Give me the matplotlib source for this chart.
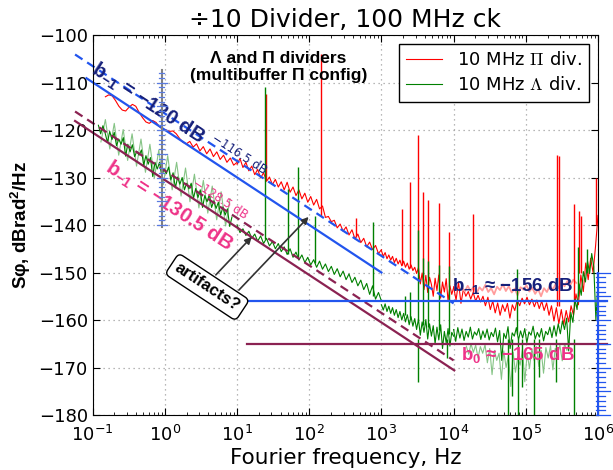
import numpy as np
import matplotlib
matplotlib.use("Agg")
import matplotlib.pyplot as plt
from matplotlib.font_manager import FontProperties

plt.rcParams['font.family'] = 'DejaVu Sans'
plt.rcParams['mathtext.fontset'] = 'custom'
plt.rcParams['mathtext.rm'] = 'Liberation Sans:bold'
plt.rcParams['mathtext.it'] = 'Liberation Sans:bold:italic'
plt.rcParams['mathtext.bf'] = 'Liberation Sans:bold'

# --- measured traces (dBrad^2/Hz), read off the plot ---
# red: 10 MHz Pi divider
red_lo_db = [-113.0, -112.6, -112.8, -113.8, -115.0, -115.8, -116.0, -115.2, -114.6, -115.0,
             -116.3, -117.4, -118.3, -118.6, -118.0, -118.4, -119.3, -119.8, -120.0, -120.3,
             -120.2, -120.8, -121.8, -122.6, -122.9, -122.4, -123.6, -122.9, -124.4, -123.5,
             -125.0, -124.0, -125.6, -124.6, -126.2, -125.3, -126.8, -125.9, -127.4, -126.8]
red_mid_db = [-127.2, -126.0, -127.9, -126.8, -128.6, -127.6, -129.4, -128.3, -130.1, -129.0,
              -130.8, -129.9, -131.5, -130.4, -132.0, -130.9, -132.6, -131.0, -133.1, -132.0,
              -133.8, -132.6, -134.5, -133.3, -135.2, -134.0, -135.8, -134.6, -136.6, -136.0,
              -138.4, -138.2, -139.3, -139.0, -140.6, -139.8, -141.3, -140.4, -142.1, -141.0,
              -142.9, -141.9, -143.7, -142.8, -144.6, -143.6, -145.2, -144.3, -146.0, -145.2]
red_khz_db = [-145.4, -146.6, -145.8, -147.1, -146.3, -147.4, -146.6, -147.9, -147.0, -148.2,
              -147.4, -148.6, -147.6, -148.9, -148.0, -149.3, -148.4, -149.6, -148.9, -150.2,
              -149.0, -152.4, -150.1, -153.6, -150.6, -154.2, -151.0, -152.5, -155.0, -151.2,
              -153.8, -150.5, -155.4, -152.0, -154.1, -151.3, -156.0, -152.8, -154.6, -153.2]
red_hi_db = [-153.0, -155.8, -152.0, -156.5, -153.5, -155.0, -154.0, -155.6, -154.2, -156.0,
             -154.8, -156.2, -155.0, -157.0, -155.2, -157.8, -156.0, -158.5, -156.4, -159.0,
             -156.8, -158.2, -156.5, -159.6, -156.8, -158.0, -155.8, -157.0, -155.4, -156.6,
             -155.2, -156.8, -155.6, -157.2, -155.8, -157.6, -156.0, -158.0, -156.4, -159.0,
             -157.0, -160.2, -157.4, -160.8, -157.8, -161.0, -158.0, -160.4, -157.0, -159.0,
             -154.5, -156.8, -150.5, -154.0, -148.0, -151.5, -147.0, -150.0, -144.5, -138.0]
red_pale_db = [-153.2, -154.0, -152.8, -153.9, -153.0, -154.4, -153.1, -153.8, -152.6, -154.1,
               -153.3, -154.6, -153.0, -153.7, -152.5, -153.9, -152.9, -154.2, -153.4, -154.8,
               -153.1, -153.6, -152.7, -154.0, -153.2, -154.5, -153.5, -155.0, -153.3, -154.1,
               -152.8, -153.6, -152.4, -153.3, -152.0, -152.9, -151.8, -152.6, -151.5, -152.2]
red_spike_f = [25, 146, 450, 1940, 2520, 3180, 3800, 4400, 6300, 8600,
               1.85e4, 2.7e5, 2.85e5, 4.6e5, 5.5e5, 5.8e5, 9.3e5]
red_spike_top = [-112.5, -104, -138.5, -136.6, -131, -121, -133, -134.7, -135.4, -141.5,
                 -137.7, -125.3, -125.5, -135.6, -137, -138, -130]
red_spike_base = [-130.5, -138, -142.5, -148.5, -149, -149.8, -151, -151, -152, -153,
                  -154, -157, -157, -157, -150, -150, -140]

# green: 10 MHz Lambda divider
green_lo_db = [-119.0, -120.8, -119.1, -120.7, -122.6, -120.3, -122.0, -120.5, -123.3, -121.9,
               -123.0, -121.6, -125.5, -123.0, -124.6, -123.1, -125.6, -124.5, -125.3, -124.2,
               -127.4, -125.4, -127.2, -125.8, -129.8, -126.8, -128.2, -126.8, -129.7, -128.2,
               -129.2, -127.8, -130.5, -129.0, -132.2, -129.9, -131.4, -130.0, -132.6, -131.2,
               -132.4, -131.2, -134.4, -132.3, -134.2, -132.6, -136.3, -133.8, -135.1, -133.6,
               -136.3, -134.9, -136.5, -135.2, -137.9, -136.2, -137.9, -136.6, -140.3, -138.3]
green_halo_db = [-122.5, -117.8, -124.0, -118.6, -125.3, -119.9, -126.4, -120.8, -127.6, -121.9,
                 -128.9, -123.0, -130.1, -124.2, -131.5, -125.4, -132.6, -126.8, -133.9, -128.0,
                 -135.1, -129.3, -136.4, -130.6, -137.5, -131.8, -138.9, -133.0, -140.2, -134.5]
green_mid_db = [-140.0, -141.6, -140.8, -142.2, -141.3, -142.8, -141.9, -143.4, -142.3, -143.9,
                -142.8, -144.4, -143.5, -145.0, -143.9, -145.6, -144.6, -146.2, -145.0, -146.8,
                -145.7, -147.4, -146.3, -147.9, -146.8, -148.4, -147.3, -148.9, -147.6, -149.3,
                -148.2, -149.8, -148.7, -150.4, -149.2, -150.9, -149.7, -151.5, -150.3, -152.1,
                -151.0, -152.8, -151.6, -153.6, -152.3, -154.6, -152.8, -155.6, -154.2, -156.0]
green_khz_db = [-156.8, -157.9, -156.6, -158.2, -157.1, -158.6, -157.4, -159.0, -157.8, -159.5,
                -158.2, -160.0, -158.6, -160.4, -158.9, -161.0, -159.3, -161.3, -159.7, -162.0,
                -159.8, -163.2, -160.4, -162.6, -159.9, -164.0, -160.8, -163.4, -161.2, -165.0,
                -161.5, -164.2, -161.0, -166.0, -162.4, -164.8, -161.8, -165.5, -162.6, -163.4]
green_hi_db = [-162.0, -164.5, -161.6, -163.8, -161.9, -164.3, -162.4, -163.6, -161.5, -164.0,
               -162.5, -163.2, -161.8, -164.1, -162.3, -163.7, -161.9, -164.2, -162.6, -163.5,
               -161.7, -164.6, -162.2, -168.5, -162.8, -163.9, -161.4, -166.0, -162.7, -163.4,
               -161.6, -164.2, -162.3, -163.8, -161.8, -164.8, -162.5, -163.2, -161.3, -164.0,
               -162.6, -163.6, -161.8, -164.4, -162.4, -163.1, -161.5, -163.7, -161.2, -163.4,
               -160.8, -162.9, -160.2, -162.0, -159.6, -166.5, -158.4, -160.5, -155.6, -157.8,
               -152.4, -154.8, -149.8, -152.0, -147.6, -150.2, -146.0, -148.8, -160.0, -152.0]
green_pale_db = [-165.5, -167.2, -165.0, -166.8, -165.3, -168.0, -165.6, -167.0, -165.2, -169.0,
                 -166.0, -171.5, -166.4, -168.5, -167.0, -172.5, -166.5, -170.0, -167.5, -174.0,
                 -166.8, -171.0, -167.8, -169.5, -166.2, -173.0, -167.0, -170.2, -166.0, -168.5,
                 -165.6, -169.8, -166.4, -171.2, -165.8, -168.0, -165.4, -170.5, -166.0, -167.2,
                 -165.3, -168.6, -165.0, -166.4, -164.8]
green_spike_f = [24.5, 50, 70, 120, 770, 2100, 2500, 3200, 3800, 4400, 6300, 8600, 7.5e4, 5.3e5, 7e5]
green_spike_top = [-111, -132.5, -127.7, -138, -139.3, -155, -154, -141, -147, -147.5,
                   -148.4, -148.6, -149.2, -144.6, -145]
green_spike_base = [-143, -146, -147, -148, -155, -159, -159.5, -160, -161, -161.5,
                    -162, -163, -163, -155, -150]
green_dip_f = [3200, 8000, 5.6e4, 6.5e4, 7.8e4, 9e4, 1.3e5, 1.5e5, 2.6e5, 4.6e5]
green_dip_db = [-173, -168, -180, -176, -180, -174, -180, -172, -173, -180]

# --- noise model lines: (start f, end f), (start dB, end dB) ---
b120_f, b120_db = [0.082, 1000], [-109.1, -150.0]
b1165_f, b1165_db = [0.057, 1e4], [-104.1, -156.5]
b1305_f, b1305_db = [0.057, 1.02e4], [-118.1, -170.6]
b1285_f, b1285_db = [0.057, 1e4], [-116.1, -168.5]
floor156_f, floor156_db = [13.5, 1.35e6], [-156, -156]
floor165_f, floor165_db = [13.8, 1.35e6], [-165, -165]

RED = '#ff0000'
GREEN = '#008000'
BLUE = '#2255ee'
MAROON = '#8b2252'
NAVY = '#16207a'
PINK = '#ee3388'

fig = plt.figure(figsize=(6.13, 4.70), dpi=100)
ax = fig.add_axes([0.1512, 0.117, 0.8243, 0.8085])
ax.set_xscale('log')

# red trace
ax.plot(np.geomspace(0.15, 10, len(red_lo_db)), red_lo_db, color=RED, lw=0.8, label='10 MHz $\\Pi$ div.')
ax.plot(np.geomspace(10, 1000, len(red_mid_db)), red_mid_db, color=RED, lw=0.8)
ax.plot(np.geomspace(1000, 1e4, len(red_khz_db)), red_khz_db, color=RED, lw=0.8)
ax.plot(np.geomspace(1e4, 1e6, len(red_hi_db)), red_hi_db, color=RED, lw=0.8)
ax.plot(np.geomspace(1.3e4, 5e5, len(red_pale_db)), red_pale_db, color='#ff9c9c', lw=1.3)
ax.vlines(red_spike_f, red_spike_base, red_spike_top, color=RED, lw=1.0)

# green trace
ax.plot(np.geomspace(0.13, 8, len(green_halo_db)), green_halo_db, color='#86c486', lw=0.8)
ax.plot(np.geomspace(0.12, 8.5, len(green_lo_db)), green_lo_db, color=GREEN, lw=0.8,
        label='10 MHz $\\Lambda$ div.')
ax.plot(np.geomspace(10, 1000, len(green_mid_db)), green_mid_db, color=GREEN, lw=0.8)
ax.plot(np.geomspace(1000, 1e4, len(green_khz_db)), green_khz_db, color=GREEN, lw=0.8)
ax.plot(np.geomspace(1.5e4, 4e5, len(green_pale_db)), green_pale_db, color='#86c486', lw=0.8)
ax.plot(np.geomspace(1e4, 1e6, len(green_hi_db)), green_hi_db, color=GREEN, lw=0.8)
ax.vlines(green_spike_f, green_spike_base, green_spike_top, color=GREEN, lw=1.0)
ax.vlines(green_dip_f, green_dip_db, [-164] * len(green_dip_f), color=GREEN, lw=1.0)

# model lines
ax.plot(b120_f, b120_db, color=BLUE, lw=1.6, clip_on=False)
ax.plot(b1165_f, b1165_db, color=BLUE, lw=1.6, ls=(0, (4, 2.5)), clip_on=False)
ax.plot(b1305_f, b1305_db, color=MAROON, lw=1.6, clip_on=False)
ax.plot(b1285_f, b1285_db, color=MAROON, lw=1.6, ls=(0, (4, 2.5)), clip_on=False)
ax.plot(floor156_f, floor156_db, color=BLUE, lw=1.6, clip_on=False)
ax.plot(floor165_f, floor165_db, color=MAROON, lw=1.6, clip_on=False)

# dB rulers
ax.plot([0.9, 0.9], [-107.4, -140.4], color='#808080', lw=1.5, zorder=4)
for y in np.arange(-140, -107, 1):
    w = 0.07 if y % 5 == 0 else 0.04
    ax.plot([0.9 / 10 ** w, 0.9 * 10 ** w], [y, y], color='#5a7be0', lw=0.9, zorder=4)
ax.plot([1e6, 1e6], [-150, -180], color=BLUE, lw=1.5, clip_on=False, zorder=4)
for y in np.arange(-180, -149, 1):
    w = 0.17 if y % 5 == 0 else 0.1
    ax.plot([10 ** (6 - 0.03), 10 ** (6 + w)], [y, y], color=BLUE, lw=0.9, clip_on=False, zorder=4)

ax.set_xlim(0.1, 1e6)
ax.set_ylim(-180, -100)
ax.set_yticks(np.arange(-180, -99, 10))
ax.tick_params(which='both', direction='in', top=True, right=True, labelsize=13)
ax.tick_params(which='major', length=5)
ax.tick_params(which='minor', length=2.5)
ax.tick_params(axis='x', pad=7)
ax.grid(True, which='major', color='#a0a0a0', ls=(0, (1, 3)), lw=0.9)

ax.set_title('\u00f710 Divider, 100 MHz ck', fontsize=18, pad=6)
ax.set_xlabel('Fourier frequency, Hz', fontsize=15.5, labelpad=2)
ax.set_ylabel('S\u03c6, dBrad$^2$/Hz', fontsize=13.5, fontweight='bold', family='Liberation Sans')

bold = dict(family='Liberation Sans', fontweight='bold', ha='center', va='center')
ax.text(37.7, -106.7, '\u039b and \u03a0 dividers\n(multibuffer \u03a0 config)', fontsize=12.5,
        linespacing=1.2, **bold)
ax.text(0.58, -114.4, 'b$_{-1}$ = \u2212120 dB', fontsize=14.5, color=NAVY, rotation=-33.1, **bold)
ax.text(10.7, -125.0, '\u2212116.5 dB', fontsize=8.5, color=NAVY, rotation=-33.1,
        ha='center', va='center')
ax.text(5.9, -134.5, '\u2212128.5 dB', fontsize=8.5, color=PINK, rotation=-33.1,
        ha='center', va='center')
ax.text(1.15, -136.0, 'b$_{-1}$ = \u2212130.5 dB', fontsize=14.5, color=PINK, rotation=-33.1, **bold)
ax.text(6.5e4, -152.8, 'b$_{-1}$ \u2248 \u2212156 dB', fontsize=13.5, color=NAVY, **bold)
ax.text(7.8e4, -167.4, 'b$_0$ \u2248 \u2212165 dB', fontsize=13.5, color=PINK, **bold)

arrow = dict(arrowstyle='-|>', color='#333333', lw=1.2, mutation_scale=10, shrinkA=0, shrinkB=0)
ax.annotate('', xy=(16, -142.5), xytext=(5.08, -150.5), arrowprops=arrow, zorder=5)
ax.annotate('', xy=(98, -138.3), xytext=(10.6, -153.7), arrowprops=arrow, zorder=5)
ax.text(3.86, -153.05, 'artifacts?', fontsize=12, rotation=-33.5, zorder=6,
        bbox=dict(boxstyle='round,pad=0.3', fc='white', ec='black', lw=1.0), **bold)

leg_font = FontProperties(family='DejaVu Sans', size=13, math_fontfamily='cm')
leg = ax.legend(loc='upper right', prop=leg_font, fancybox=False, edgecolor='black',
                framealpha=1, borderaxespad=0.5, handlelength=2.0, labelspacing=0.4)
leg.get_frame().set_linewidth(1.0)

fig.savefig('out.png', dpi=100)
